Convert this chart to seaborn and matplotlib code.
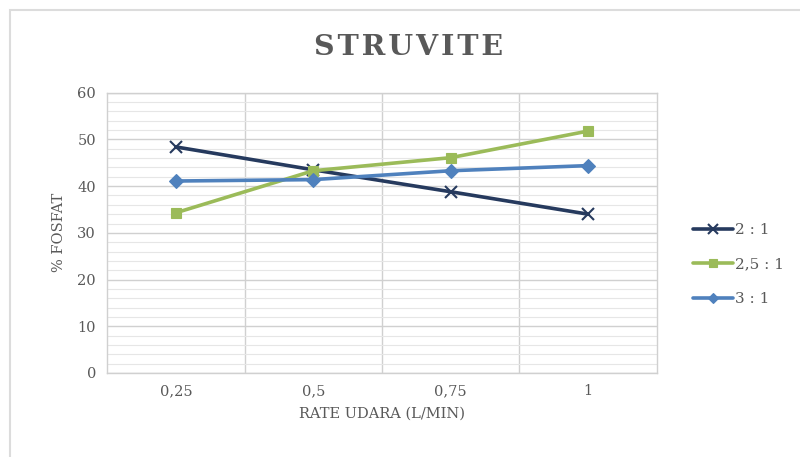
import matplotlib
matplotlib.use("Agg")
import matplotlib.pyplot as plt
import seaborn as sns
import pandas as pd
from matplotlib.patches import Rectangle
from matplotlib.lines import Line2D
from matplotlib.ticker import MultipleLocator, FixedLocator

# Data
rate_labels = ["0,25", "0,5", "0,75", "1"]
series_names = ["2 : 1", "2,5 : 1", "3 : 1"]
ratio_2_1 = [48.4, 43.5, 38.8, 34.0]
ratio_25_1 = [34.3, 43.3, 46.1, 51.8]
ratio_3_1 = [41.1, 41.4, 43.3, 44.4]
y_ticks = [0, 10, 20, 30, 40, 50, 60]

rows = []
for name, vals in zip(series_names, [ratio_2_1, ratio_25_1, ratio_3_1]):
    for lab, v in zip(rate_labels, vals):
        rows.append({"rate": lab, "fosfat": v, "rasio": name})
df = pd.DataFrame(rows)

sns.set_theme(style="white")
plt.rcParams["font.family"] = ["DejaVu Serif"]

colors = {"2 : 1": "#263a5e", "2,5 : 1": "#9bbb59", "3 : 1": "#4f81bd"}
markers = {"2 : 1": "X", "2,5 : 1": "s", "3 : 1": "D"}

fig = plt.figure(figsize=(8, 4.57), dpi=100)
ax = fig.add_axes([0.134, 0.184, 0.687, 0.613])

sns.lineplot(data=df, x="rate", y="fosfat", hue="rasio", style="rasio",
             palette=colors, markers=markers, dashes=False, linewidth=2.6,
             markersize=7, markeredgewidth=0.8, ax=ax, sort=False,
             legend=False)
for line in ax.lines:
    line.set_markeredgecolor(line.get_color())
ax.lines[0].set_marker("x")
ax.lines[0].set_markersize(9)
ax.lines[0].set_markeredgewidth(1.5)

ax.set_xlim(-0.5, 3.5)
ax.set_ylim(0, 60)
ax.yaxis.set_major_locator(FixedLocator(y_ticks))
ax.yaxis.set_minor_locator(MultipleLocator(2))
ax.xaxis.set_minor_locator(FixedLocator([0.5, 1.5, 2.5]))
ax.grid(which="major", axis="y", color="#d0d0d0", linewidth=1.0)
ax.grid(which="minor", axis="y", color="#e6e6e6", linewidth=0.8)
ax.grid(which="minor", axis="x", color="#d0d0d0", linewidth=1.0)
ax.set_axisbelow(True)
for s in ax.spines.values():
    s.set_color("#d0d0d0")
    s.set_linewidth(1.0)
ax.tick_params(axis="both", which="both", length=0, labelsize=10.5,
               labelcolor="#595959", pad=8)

ax.set_xlabel("RATE UDARA (L/MIN)", fontsize=10.5, color="#595959", labelpad=6)
ax.set_ylabel("% FOSFAT", fontsize=10.5, color="#595959", labelpad=8)

fig.text(0.511, 0.897, "\u200a".join("STRUVITE"), ha="center", va="center",
         fontsize=20.5, fontweight="bold", color="#595959")

# legend handles mirror the plotted lines
handles = []
for line in ax.lines[:3]:
    handles.append(Line2D([], [], color=line.get_color(), linewidth=2.6,
                          marker=line.get_marker(),
                          markersize=line.get_markersize() * 0.8,
                          markeredgewidth=line.get_markeredgewidth(),
                          markeredgecolor=line.get_color(),
                          markerfacecolor=line.get_color()))
ax.legend(handles, series_names, loc="center left",
          bbox_to_anchor=(1.055, 0.386),
          frameon=False, fontsize=11, labelcolor="#595959",
          handlelength=2.6, handletextpad=0.15, labelspacing=1.35,
          borderaxespad=0)

# chart frame
fig.patches.append(Rectangle((10 / 800, -0.02), 1.0, 1 - 10 / 457 + 0.02,
                             transform=fig.transFigure, fill=False,
                             edgecolor="#dcdcdc", linewidth=1.5))

fig.savefig("out.png", dpi=100)
